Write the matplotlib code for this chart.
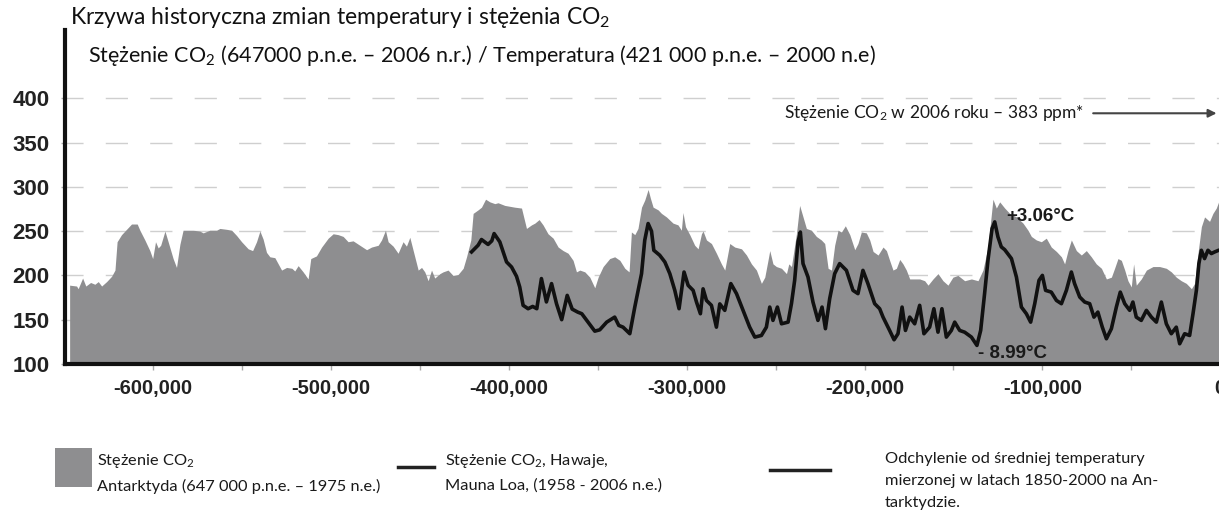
import matplotlib.pyplot as plt
from matplotlib.lines import Line2D
from matplotlib.patches import Rectangle
from matplotlib.ticker import FuncFormatter, MultipleLocator

plt.rcParams["mathtext.fontset"] = "custom"
plt.rcParams["mathtext.rm"] = "Lato"
plt.rcParams["mathtext.it"] = "Lato"

# CO2 from Antarctic ice cores: age in thousand years (negative = BC) and ppm
co2_kyr = [
    -647.0, -643.1, -642.2, -639.7, -637.9, -635.2, -632.8, -630.9, -629.0, -626.2,
    -623.4, -621.5, -620.3, -617.8, -615.0, -612.2, -609.0, -607.5, -604.7, -601.9,
    -600.3, -598.7, -597.2, -595.8, -593.4, -591.6, -588.8, -586.9, -585.0, -583.2,
    -577.5, -573.8, -571.9, -568.2, -564.4, -562.5, -558.7, -555.9, -553.1, -550.3,
    -546.6, -544.1, -541.9, -540.0, -538.2, -536.3, -534.4, -531.6, -527.8, -525.0,
    -522.0, -520.4, -518.5, -515.7, -512.9, -511.4, -508.2, -505.3, -501.6, -498.8,
    -496.0, -493.2, -490.4, -487.6, -483.8, -480.0, -477.2, -473.5, -471.6, -469.4,
    -467.9, -465.1, -462.3, -459.5, -457.6, -455.7, -453.8, -451.0, -449.1, -447.3,
    -445.4, -443.5, -441.7, -438.8, -437.0, -434.2, -431.4, -428.6, -425.7, -423.8,
    -421.4, -420.1, -417.3, -415.4, -413.1, -410.7, -407.9, -406.1, -402.3, -396.7,
    -392.9, -390.1, -387.3, -385.4, -383.0, -380.8, -378.0, -375.1, -372.3, -369.5,
    -366.7, -363.9, -362.0, -360.1, -357.3, -354.5, -351.7, -349.8, -347.0, -343.3,
    -340.5, -337.6, -334.8, -332.4, -331.1, -329.2, -327.4, -325.4, -323.6, -321.7,
    -320.4, -318.9, -316.1, -314.2, -311.4, -307.7, -304.9, -303.0, -302.1, -300.7,
    -298.3, -295.5, -293.6, -291.7, -290.8, -288.9, -286.1, -283.3, -280.5, -278.6,
    -275.8, -273.0, -269.2, -266.4, -263.6, -260.8, -258.0, -256.1, -254.3, -253.3,
    -251.5, -249.6, -246.7, -243.9, -242.6, -241.1, -238.3, -236.5, -234.6, -232.7,
    -229.9, -227.1, -224.3, -222.4, -220.5, -218.6, -216.8, -214.9, -213.0, -210.8,
    -208.3, -205.5, -203.7, -201.8, -199.0, -197.1, -195.2, -192.4, -189.6, -187.7,
    -185.9, -184.0, -182.1, -180.2, -178.4, -176.5, -174.6, -172.8, -169.0, -166.2,
    -164.3, -161.5, -158.7, -155.9, -153.1, -150.3, -147.5, -143.7, -139.9, -136.2,
    -133.4, -130.6, -127.8, -125.9, -124.0, -121.2, -118.4, -114.6, -110.9, -108.1,
    -106.2, -103.4, -100.6, -97.8, -95.0, -92.1, -89.3, -87.5, -85.6, -83.7,
    -80.9, -78.1, -75.3, -72.5, -69.7, -66.8, -64.0, -61.2, -59.4, -57.5,
    -55.6, -53.7, -51.9, -50.0, -48.7, -47.2, -44.4, -41.5, -37.8, -34.1,
    -30.3, -27.5, -24.7, -21.9, -19.1, -16.2, -14.4, -12.5, -10.6, -8.8,
    -6.0, -4.1, -2.2, -0.9, 2.0,
]
co2_ppm = [
    189, 188, 185, 197, 188, 192, 190, 193, 188, 193,
    199, 206, 238, 246, 252, 258, 258, 251, 240, 228,
    219, 238, 231, 234, 250, 238, 219, 209, 235, 251,
    251, 250, 248, 251, 251, 253, 252, 251, 245, 238,
    230, 228, 238, 250, 241, 226, 221, 220, 206, 209,
    208, 205, 211, 204, 196, 219, 222, 232, 242, 247,
    246, 244, 238, 239, 234, 229, 232, 234, 240, 251,
    238, 233, 225, 238, 233, 243, 228, 206, 209, 204,
    194, 206, 197, 202, 204, 206, 200, 201, 208, 221,
    240, 270, 274, 277, 286, 283, 281, 282, 279, 277,
    276, 253, 257, 259, 263, 257, 247, 242, 232, 228,
    225, 217, 204, 206, 204, 198, 186, 198, 210, 219,
    221, 217, 208, 204, 249, 246, 253, 277, 285, 297,
    287, 277, 274, 270, 266, 259, 257, 251, 271, 255,
    246, 234, 230, 247, 250, 240, 236, 225, 213, 206,
    236, 232, 230, 223, 213, 206, 191, 198, 217, 228,
    213, 210, 208, 202, 213, 210, 247, 279, 266, 253,
    251, 244, 240, 236, 208, 206, 234, 251, 249, 256,
    246, 229, 236, 249, 248, 240, 227, 223, 232, 228,
    217, 206, 208, 218, 213, 206, 196, 196, 196, 194,
    189, 196, 202, 194, 189, 198, 200, 194, 196, 194,
    206, 232, 286, 276, 283, 276, 270, 266, 259, 251,
    244, 240, 238, 242, 232, 227, 221, 213, 228, 240,
    228, 223, 228, 221, 213, 208, 196, 198, 208, 219,
    217, 206, 194, 187, 213, 189, 196, 206, 210, 210,
    208, 204, 198, 194, 191, 185, 191, 225, 255, 266,
    261, 270, 276, 283, 290,
]

# Antarctic temperature deviation: age in thousand years and deg C
temp_kyr = [
    -421.0, -417.3, -415.4, -411.7, -409.6, -408.3, -405.1, -401.3, -398.5, -395.7,
    -393.9, -392.0, -389.2, -386.6, -384.3, -381.7, -378.9, -376.0, -373.2, -370.3,
    -367.2, -364.4, -361.3, -359.0, -355.5, -351.7, -348.9, -345.0, -340.5, -338.2,
    -335.8, -332.0, -329.2, -325.4, -323.6, -321.7, -319.8, -318.5, -315.2, -312.3,
    -309.5, -306.7, -304.3, -301.5, -299.2, -296.4, -294.5, -292.3, -290.8, -288.9,
    -286.1, -283.3, -281.4, -278.6, -275.2, -272.0, -268.3, -264.6, -261.7, -258.0,
    -255.2, -253.3, -251.5, -249.0, -246.7, -243.0, -241.1, -239.3, -237.4, -236.1,
    -234.6, -231.8, -229.0, -226.2, -223.9, -222.0, -219.6, -216.8, -214.0, -210.2,
    -206.5, -203.7, -200.9, -198.1, -194.3, -191.5, -189.6, -185.9, -183.4, -181.2,
    -178.9, -177.0, -174.6, -171.8, -169.0, -166.6, -163.4, -161.0, -158.7, -156.5,
    -154.0, -151.2, -149.3, -146.5, -143.7, -139.9, -136.8, -134.7, -132.5, -130.6,
    -128.3, -126.8, -125.0, -123.1, -121.2, -117.4, -114.6, -111.8, -109.0, -106.6,
    -104.3, -101.9, -100.0, -98.2, -95.0, -92.1, -89.3, -86.5, -83.7, -81.9,
    -79.0, -76.2, -73.4, -71.0, -68.8, -66.3, -64.0, -61.2, -58.4, -56.2,
    -53.7, -50.9, -49.1, -47.2, -44.4, -41.5, -38.7, -35.9, -33.1, -30.3,
    -27.5, -24.7, -22.8, -20.0, -17.2, -15.3, -13.4, -12.0, -10.6, -8.8,
    -6.9, -5.0, -3.1, -0.9, 2.0,
]
temp_degc = [
    0.13, 0.78, 1.34, 0.86, 1.21, 1.92, 1.11, -0.85, -1.34, -2.25,
    -3.29, -5.08, -5.41, -5.19, -5.41, -2.47, -4.75, -2.96, -4.93, -6.48,
    -4.11, -5.45, -5.74, -5.90, -6.72, -7.60, -7.47, -6.72, -6.23, -7.04,
    -7.21, -7.85, -5.25, -1.99, 1.27, 2.90, 2.16, 0.29, -0.19, -0.85,
    -1.99, -3.62, -5.41, -1.83, -3.13, -3.62, -4.76, -5.90, -3.47, -4.60,
    -5.08, -7.21, -4.94, -5.57, -2.96, -3.94, -5.57, -7.21, -8.18, -8.02,
    -7.21, -5.25, -6.55, -5.25, -6.88, -6.72, -4.92, -2.64, 1.11, 2.07,
    -1.01, -2.32, -4.76, -6.55, -5.25, -7.36, -4.43, -1.99, -1.01, -1.67,
    -3.62, -3.94, -1.67, -2.96, -4.92, -5.41, -6.23, -7.53, -8.44, -7.85,
    -5.25, -7.53, -6.23, -6.88, -5.08, -7.85, -7.21, -5.41, -7.70, -5.41,
    -8.18, -7.53, -6.72, -7.53, -7.70, -8.18, -8.99, -7.53, -3.94, -0.68,
    2.41, 3.06, 1.60, 0.62, 0.35, -0.52, -2.32, -5.25, -5.90, -6.72,
    -4.92, -2.64, -2.16, -3.62, -3.79, -4.60, -4.92, -3.62, -1.83, -2.96,
    -4.27, -4.76, -4.92, -6.23, -5.74, -7.21, -8.34, -7.36, -5.25, -3.79,
    -4.92, -5.57, -4.76, -6.23, -6.55, -5.57, -6.23, -6.72, -4.76, -6.88,
    -7.85, -7.21, -8.83, -7.85, -8.02, -5.90, -3.62, -1.01, 0.29, -0.52,
    0.29, -0.03, 0.13, 0.29, 0.40,
]

y_ticks = [100, 150, 200, 250, 300, 350, 400]
co2_2006_ppm = 383

title_lines = [
    "Krzywa historyczna zmian temperatury i stężenia CO$_2$",
    "Stężenie CO$_2$ (647000 p.n.e. – 2006 n.r.) / Temperatura (421 000 p.n.e. – 2000 n.e)",
]
legend_texts = [
    "Stężenie CO$_2$\nAntarktyda (647 000 p.n.e. – 1975 n.e.)",
    "Stężenie CO$_2$, Hawaje,\nMauna Loa, (1958 - 2006 n.e.)",
    "Odchylenie od średniej temperatury\nmierzonej w latach 1850-2000 na An-\ntarktydzie.",
]

fill_color = "#8e8e90"
text_font = ["Lato", "DejaVu Sans"]
tick_font = ["Liberation Sans", "DejaVu Sans"]

# ppm level that lines up with 0 deg C, and ppm per deg C, for the temperature overlay
ppm_at_zero_c = 225.0
ppm_per_c = 11.57
y_lim = (100, 477)

W, H = 1219, 520
fig = plt.figure(figsize=(W / 100, H / 100), dpi=100)
ax = fig.add_axes([65 / W, 156 / H, 1173 / W, 334 / H])

ax.fill_between([k * 1000 for k in co2_kyr], co2_ppm, y_lim[0], color=fill_color, linewidth=0, zorder=1)
ax.set_xlim(-649600, 10000)
ax.set_ylim(*y_lim)
ax.set_yticks(y_ticks)
ax.xaxis.set_major_locator(MultipleLocator(100000))
ax.xaxis.set_minor_locator(MultipleLocator(50000))
ax.xaxis.set_major_formatter(FuncFormatter(lambda v, p: f"{int(round(v)):,}"))

ax.set_axisbelow(True)
ax.yaxis.grid(True, color="#cfcfcf", linewidth=1.0, linestyle=(3, (16, 16)))
for s in ["top", "right"]:
    ax.spines[s].set_visible(False)
for s in ["left", "bottom"]:
    ax.spines[s].set_linewidth(3.0)
    ax.spines[s].set_color("#111111")

ax.tick_params(axis="y", length=3, width=1, color="#aaaaaa", pad=8, labelsize=16, labelcolor="#222222")
ax.tick_params(axis="x", which="both", length=4, width=1, color="#aaaaaa", pad=7, labelsize=14.5, labelcolor="#222222")
for lab in ax.get_xticklabels() + ax.get_yticklabels():
    lab.set_family(tick_font)
    lab.set_fontweight("bold")

# temperature curve on its own scale
ax2 = ax.twinx()
ax2.set_ylim((y_lim[0] - ppm_at_zero_c) / ppm_per_c, (y_lim[1] - ppm_at_zero_c) / ppm_per_c)
ax2.plot([k * 1000 for k in temp_kyr], temp_degc, color="#111111", linewidth=2.6, solid_joinstyle="round")
ax2.set_axis_off()

t_max = max(temp_degc)
t_min = min(temp_degc)
i_max = temp_degc.index(t_max)
i_min = temp_degc.index(t_min)
ax2.annotate(f"+{t_max:.2f}°C", xy=(temp_kyr[i_max] * 1000, t_max), xytext=(8, 4), textcoords="offset points",
             fontsize=13.5, fontweight="bold", family=tick_font, color="#1a1a1a", va="center", ha="left")
ax2.annotate(f"- {abs(t_min):.2f}°C", xy=(temp_kyr[i_min] * 1000, t_min), xytext=(1, -6), textcoords="offset points",
             fontsize=13.5, fontweight="bold", family=tick_font, color="#1a1a1a", va="center", ha="left")

# 2006 CO2 level, off the right edge
ax.annotate("", xy=(-500, co2_2006_ppm), xytext=(-73000, co2_2006_ppm),
            arrowprops=dict(arrowstyle="-|>", color="#444444", lw=1.5, mutation_scale=12))
ax.text(-76500, co2_2006_ppm, f"Stężenie CO$_2$ w 2006 roku – {co2_2006_ppm} ppm*", ha="right", va="center",
        fontsize=12.5, family=text_font, color="#1a1a1a")

# title
fig.text(70 / W, 1 - 18 / H, title_lines[0], ha="left", va="center", fontsize=16.5, family=text_font, color="#111111")
fig.text(88 / W, 1 - 55 / H, title_lines[1], ha="left", va="center", fontsize=15.5, family=text_font, color="#111111")

# legend
fig.add_artist(Rectangle((55 / W, 1 - 487 / H), 37 / W, 39 / H, transform=fig.transFigure, color=fill_color, lw=0))
fig.add_artist(Line2D([398 / W, 434 / W], [1 - 467 / H] * 2, transform=fig.transFigure, color="#222222", lw=2.5))
fig.add_artist(Line2D([770 / W, 830 / W], [1 - 470 / H] * 2, transform=fig.transFigure, color="#222222", lw=2.5))
for x0, txt in zip([97, 445, 885], legend_texts):
    fig.text(x0 / W, 1 - 452 / H, txt, ha="left", va="top", fontsize=11.8, family=text_font,
             color="#1a1a1a", linespacing=1.75)

fig.savefig("out.png", dpi=100)
